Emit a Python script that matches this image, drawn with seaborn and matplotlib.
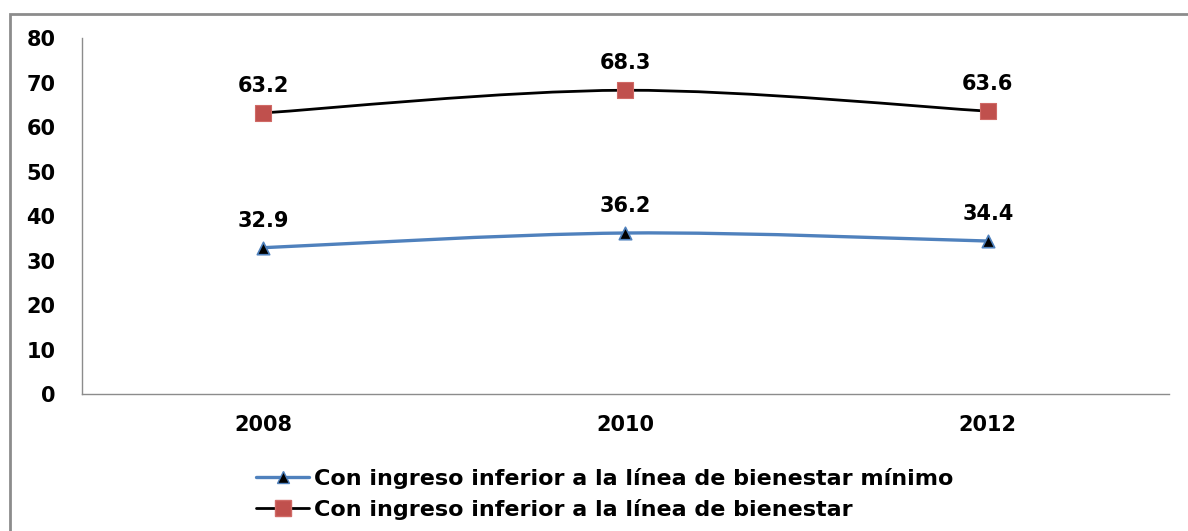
import matplotlib
matplotlib.use("Agg")
import matplotlib.pyplot as plt
from matplotlib.path import Path
from matplotlib.patches import PathPatch, Rectangle
from matplotlib.lines import Line2D
import seaborn as sns
import pandas as pd
import numpy as np

years = ["2008", "2010", "2012"]
minimo_vals = [32.9, 36.2, 34.4]
bienestar_vals = [63.2, 68.3, 63.6]
labels = ["Con ingreso inferior a la línea de bienestar mínimo",
          "Con ingreso inferior a la línea de bienestar"]

BLUE = "#4F81BD"
RED = "#C0504D"

sns.set_style("white")
plt.rcParams["font.family"] = ["DejaVu Sans"]
plt.rcParams["font.weight"] = "bold"
plt.rcParams["text.color"] = "black"
plt.rcParams["xtick.color"] = "black"
plt.rcParams["ytick.color"] = "black"


def smooth_path(xs, ys):
    # excel-like smoothed line: cubic bezier through the points
    pts = np.column_stack([xs, ys]).astype(float)
    n = len(pts)
    verts = [pts[0]]
    codes = [Path.MOVETO]
    for i in range(n - 1):
        p0 = pts[max(i - 1, 0)]
        p1 = pts[i]
        p2 = pts[i + 1]
        p3 = pts[min(i + 2, n - 1)]
        c1 = p1 + (p2 - p0) / 6
        c2 = p2 - (p3 - p1) / 6
        verts += [c1, c2, p2]
        codes += [Path.CURVE4] * 3
    return Path(verts, codes)


df = pd.DataFrame({
    "x": list(range(len(years))) * 2,
    "value": minimo_vals + bienestar_vals,
    "serie": [labels[0]] * 3 + [labels[1]] * 3,
})

fig = plt.figure(figsize=(11.88, 5.31), dpi=100)
ax = fig.add_axes([0.069, 0.258, 0.915, 0.670])

xs = np.arange(len(years))
ax.add_patch(PathPatch(smooth_path(xs, minimo_vals), fill=False,
                       edgecolor=BLUE, lw=2.4, zorder=2))
ax.add_patch(PathPatch(smooth_path(xs, bienestar_vals), fill=False,
                       edgecolor="black", lw=2.0, zorder=2))

sns.scatterplot(data=df[df.serie == labels[0]], x="x", y="value", ax=ax,
                marker="^", s=80, color="black", edgecolor=BLUE,
                linewidth=1.2, zorder=3, legend=False)
sns.scatterplot(data=df[df.serie == labels[1]], x="x", y="value", ax=ax,
                marker="s", s=130, color=RED, edgecolor="#D06A66",
                linewidth=0.8, zorder=3, legend=False)

for vals in (minimo_vals, bienestar_vals):
    for x, v in zip(xs, vals):
        ax.annotate(f"{v:.1f}", (x, v), xytext=(0, 19.5),
                    textcoords="offset points", ha="center", va="center",
                    fontsize=15, fontweight="bold", color="black")

ax.set_xlim(-0.5, 2.5)
ax.set_ylim(0, 80)
ax.set_yticks(range(0, 81, 10))
ax.set_xticks(xs)
ax.set_xticklabels(years)
ax.set_xlabel("")
ax.set_ylabel("")
ax.tick_params(axis="y", length=0, pad=19, labelsize=15)
ax.tick_params(axis="x", length=0, pad=15, labelsize=15)
for t in ax.get_xticklabels() + ax.get_yticklabels():
    t.set_fontweight("bold")

sns.despine(ax=ax, top=True, right=True)
ax.spines["left"].set_color("#8C8C8C")
ax.spines["bottom"].set_color("#8C8C8C")
ax.spines["left"].set_linewidth(1.0)
ax.spines["bottom"].set_linewidth(1.0)

handles = [
    Line2D([], [], color=BLUE, lw=2.4, marker="^", markersize=9,
           markerfacecolor="black", markeredgecolor=BLUE),
    Line2D([], [], color="black", lw=2.0, marker="s", markersize=11,
           markerfacecolor=RED, markeredgecolor="#D06A66"),
]
fig.legend(handles, labels, loc="upper left",
           bbox_to_anchor=(245 / 1188, 1 - 457 / 531), frameon=False,
           prop={"size": 16, "weight": "bold"}, handlelength=2.4,
           handletextpad=0.2, labelspacing=0.45, borderpad=0)

# grey frame around the chart area (extends past right/bottom edge)
fig.patches.append(Rectangle((10 / 1188, -0.1), 1.2, 1 - 14 / 531 + 0.1,
                             transform=fig.transFigure, fill=False,
                             edgecolor="#8C8C8C", lw=2.0, zorder=0))

fig.savefig("out.png", dpi=100)
